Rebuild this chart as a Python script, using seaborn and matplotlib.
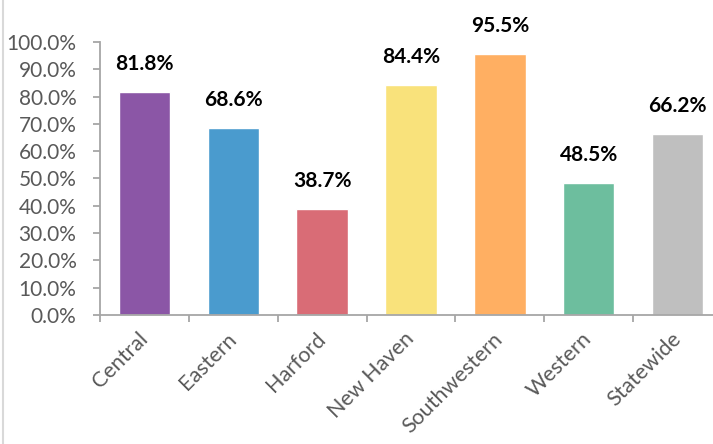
import matplotlib
matplotlib.use("Agg")
import matplotlib.pyplot as plt
from matplotlib.ticker import FixedLocator, PercentFormatter
from matplotlib.lines import Line2D
import seaborn as sns
import pandas as pd

regions = ["Central", "Eastern", "Harford", "New Haven", "Southwestern", "Western", "Statewide"]
rates = [0.818, 0.686, 0.387, 0.844, 0.955, 0.485, 0.662]
colors = ["#8B56A6", "#4A9BCE", "#D96C76", "#F9E27B", "#FFAF62", "#6DBE9E", "#BFBFBF"]

df = pd.DataFrame({"region": regions, "rate": rates})

sns.set_theme(style="white")
plt.rcParams["font.family"] = ["Lato", "DejaVu Sans"]

fig = plt.figure(figsize=(7.13, 4.44), dpi=100)
ax = fig.add_axes([100 / 713, 1 - 315 / 444, 622 / 713, 273 / 444])

sns.barplot(data=df, x="region", y="rate", hue="region", palette=colors,
            width=0.58, legend=False, ax=ax, saturation=1)

ax.set_xlim(-0.5, 6.5)
ax.set_ylim(0, 1.0)
ax.set_xlabel("")
ax.set_ylabel("")

axis_gray = "#A6A6A6"
text_gray = "#595959"

for side in ["top", "right"]:
    ax.spines[side].set_visible(False)
for side in ["left", "bottom"]:
    ax.spines[side].set_color(axis_gray)
    ax.spines[side].set_linewidth(1.3)

ax.yaxis.set_major_locator(FixedLocator([i / 10 for i in range(11)]))
ax.yaxis.set_major_formatter(PercentFormatter(1.0, decimals=1))
ax.tick_params(axis="y", which="major", length=5, width=1.3, color=axis_gray,
               labelcolor=text_gray, labelsize=15, pad=12, left=True)

# labels centred under bars, tick marks between categories
ax.set_xticks(range(len(regions)))
ax.set_xticklabels(regions, rotation=45, ha="right", va="center", rotation_mode="anchor")
ax.tick_params(axis="x", which="major", length=0, labelcolor=text_gray,
               labelsize=15.5, pad=15)
ax.xaxis.set_minor_locator(FixedLocator([i - 0.5 for i in range(len(regions) + 1)]))
ax.tick_params(axis="x", which="minor", length=5, width=1.3, color=axis_gray, bottom=True)

for i, v in enumerate(rates):
    ax.annotate(f"{v * 100:.1f}%", xy=(i, v), xytext=(0, 18), textcoords="offset pixels",
                ha="center", va="bottom", fontsize=15, fontweight="bold", color="black")

# chart frame edge on the left
fig.add_artist(Line2D([2.5 / 713, 2.5 / 713], [0, 1], transform=fig.transFigure,
                      color="#D9D9D9", linewidth=1.5))

fig.savefig("out.png", dpi=100)
